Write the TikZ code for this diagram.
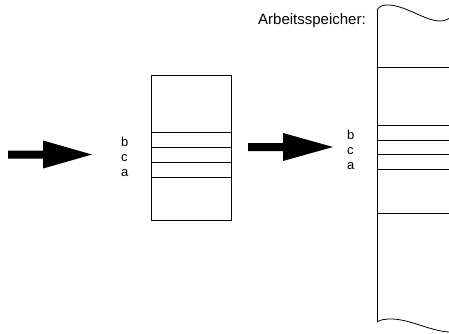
\documentclass[tikz,border=0pt]{standalone}
\usepackage{fontspec}
\setmainfont{Liberation Sans}
\begin{document}
\begin{tikzpicture}[x=1pt,y=-1pt,
  lbl/.style={anchor=base west,inner sep=0pt,font=\fontsize{13}{15}\selectfont},
  ttl/.style={anchor=base west,inner sep=0pt,font=\fontsize{15}{18}\selectfont},
  frame/.style={draw=black,line width=0.8pt},
  bigarrow/.style={fill=black,draw=none}]
\useasboundingbox (0,0) rectangle (449,334);

% input arrow
\fill[bigarrow] (8,150.5) -- (43,150.5) -- (43,140.5) -- (92,154.5) -- (43,168.5) -- (43,158.5) -- (8,158.5) -- cycle;

% buffer box
\draw[frame] (151,75) rectangle (231,220);
\foreach \yy in {132,147,162,177} \draw[frame] (151,\yy) -- (231,\yy);
\node[lbl] (lb) at (121,146) {b};
\node[lbl] (lc) at (121,161) {c};
\node[lbl] (la) at (121,176) {a};

% middle arrow
\fill[bigarrow] (248,143) -- (283,143) -- (283,133) -- (333,147) -- (283,161) -- (283,151) -- (248,151) -- cycle;

% memory
\node[ttl] (title) at (258,24.5) {Arbeitsspeicher:};
\draw[frame] (377,10) -- (377,322);
\draw[frame] (377,10) .. controls (380,5.5) and (383,5) .. (388,5)
  .. controls (405,5) and (425,21) .. (440,21)
  .. controls (444,21) and (447,19.5) .. (449,18.5);
\draw[frame] (377,322) .. controls (381,319.5) and (385,319) .. (391,319)
  .. controls (410,319) and (430,331) .. (449,332);
\foreach \yy in {67,125,140,154,169,213} \draw[frame] (377,\yy) -- (449,\yy);
\node[lbl] (rb) at (347,139.5) {b};
\node[lbl] (rc) at (347,154) {c};
\node[lbl] (ra) at (347,169) {a};
\end{tikzpicture}
\end{document}
